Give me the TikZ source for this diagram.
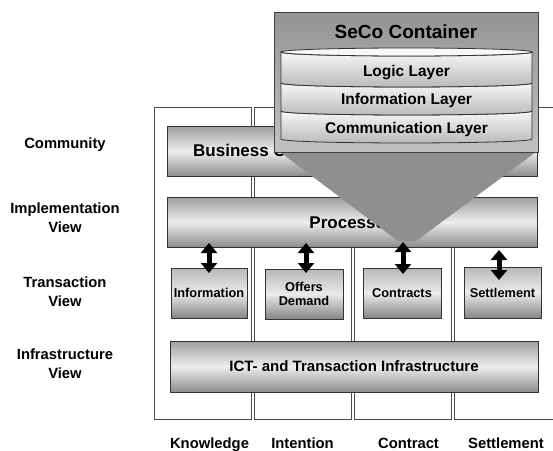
\documentclass[tikz,border=0pt]{standalone}
\usepackage{fontspec}
\setmainfont{Liberation Sans}
\usetikzlibrary{arrows.meta,calc}
\newcommand{\myTitleFont}{\fontsize{19}{23}\selectfont\bfseries}
\newcommand{\myLayerFont}{\fontsize{15.5}{18}\selectfont\bfseries}
\newcommand{\myBigFont}{\fontsize{17}{20}\selectfont\bfseries}
\newcommand{\myIctFont}{\fontsize{15}{18}\selectfont\bfseries}
\newcommand{\mySmallFont}{\fontsize{12.8}{13.5}\selectfont\bfseries}
\newcommand{\myLabelFont}{\fontsize{14.8}{19}\selectfont\bfseries}
\begin{document}
\begin{tikzpicture}[x=1pt,y=-1pt,
  colframe/.style={draw=black!70,line width=0.9pt},
  bigbox/.style={draw=black!80,line width=0.8pt,top color=black!38,bottom color=black!45,middle color=black!7,inner sep=0pt,outer sep=0pt},
  smallbox/.style={draw=black!80,line width=0.8pt,top color=black!28,bottom color=black!48,middle color=black!8,inner sep=0pt,outer sep=0pt,minimum width=78pt,minimum height=50pt,font=\mySmallFont,align=center},
  lbl/.style={font=\myLabelFont,align=center,inner sep=0pt},
  dbl/.style={line width=5pt,black,{Triangle[width=16pt,length=10pt]}-{Triangle[width=16pt,length=10pt]}},
  layer/.style={draw=black!80,line width=0.8pt,top color=black!3,bottom color=black!28},
  txt/.style={inner sep=0pt,anchor=base}]
\useasboundingbox (0,0) rectangle (553,450);
\clip (0,0) rectangle (553,450);
\fill[white] (0,0) rectangle (553,450);

% column frames
\draw[colframe] (154,107) rectangle (251,419);
\draw[colframe] (254,107) rectangle (351,419);
\draw[colframe] (354,107) rectangle (451,419);
\draw[colframe] (454,107) rectangle (590,419);

% left labels
\node[lbl,anchor=base] (community) at (65,148.3) {Community};
\node[lbl] (implv) at (65,218.2) {Implementation\\View};
\node[lbl] (transv) at (65,291.7) {Transaction\\View};
\node[lbl] (infrav) at (65,363.7) {Infrastructure\\View};

% bottom labels
\node[lbl,anchor=base] (knowledge) at (209.5,448) {Knowledge};
\node[lbl,anchor=base] (intention) at (302.5,448) {Intention};
\node[lbl,anchor=base] (contract) at (408.5,448) {Contract};
\node[lbl,anchor=base] (settlement) at (506,448) {Settlement};

% big boxes
\node[bigbox,minimum width=370pt,minimum height=50pt] (business) at (352,151) {};
\node[txt,anchor=base west,font=\myBigFont] (businesstext) at (193,156.7) {Business Community};
\node[bigbox,minimum width=370pt,minimum height=50pt,font=\myBigFont,text height=12.2pt,text depth=0pt] (process) at (352,222) {Processes};
\node[bigbox,minimum width=368pt,minimum height=51pt,font=\myIctFont,text height=10.8pt,text depth=0pt] (ict) at (354,366.5) {ICT- and Transaction Infrastructure};

% small boxes
\node[smallbox,minimum width=76pt,text height=9.2pt,text depth=0pt] (info) at (209,293) {Information};
\node[smallbox] (offers) at (304,294) {Offers\\Demand};
\node[smallbox,text height=9.2pt,text depth=0pt] (contracts) at (402,293) {Contracts};
\node[smallbox,minimum width=77pt,minimum height=51pt,text height=9.2pt,text depth=0pt] (settle) at (502.5,292.5) {Settlement};

% double arrows
\draw[dbl] ($(process.south -| info.north)+(0,-4)$) -- ($(info.north)+(0,5)$);
\draw[dbl] ($(process.south -| offers.north)+(2,-4)$) -- ($(offers.north)+(2,4)$);
\draw[dbl] ($(process.south -| contracts.north)+(1,-5)$) -- ($(contracts.north)+(1,6)$);
\draw[dbl] ($(process.south -| settle.north)+(-3.5,3)$) -- ($(settle.north)+(-3.5,13)$);

% cone
\fill[black!44] (280,152) -- (536,152) -- (416,241) -- (398,241) -- cycle;

% SeCo container
\node[draw=black!75,line width=0.8pt,top color=black!42,bottom color=black!24,minimum width=264pt,minimum height=140pt,inner sep=0pt] (container) at (406,82) {};
\node[txt,font=\myTitleFont] (title) at (406,38.5) {SeCo Container};

% cylinder layers
\path[layer] (281,111) -- (281,139) .. controls (281,144.3) and (532,144.3) .. (532,139) -- (532,111) .. controls (532,116.3) and (281,116.3) .. cycle;
\path[layer] (281,83) -- (281,111) .. controls (281,116.3) and (532,116.3) .. (532,111) -- (532,83) .. controls (532,88.3) and (281,88.3) .. cycle;
\path[layer] (281,52) -- (281,83) .. controls (281,88.3) and (532,88.3) .. (532,83) -- (532,52) .. controls (532,57.3) and (281,57.3) .. cycle;
\draw[draw=black!80,line width=0.8pt,fill=black!3] (406.5,52) ellipse [x radius=125.5, y radius=4];

\node[txt,font=\myLayerFont] (logic) at (406.5,76) {Logic Layer};
\node[txt,font=\myLayerFont] (information) at (406.5,104.7) {Information Layer};
\node[txt,font=\myLayerFont] (communication) at (406.5,133.3) {Communication Layer};
\end{tikzpicture}
\end{document}
